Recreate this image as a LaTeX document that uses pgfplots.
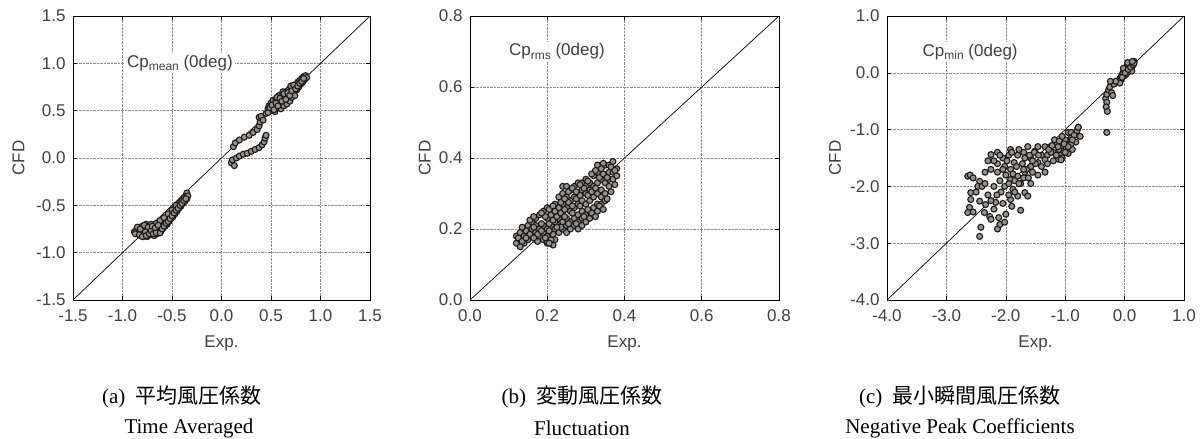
\documentclass[border=0pt]{standalone}
\usepackage{fontspec}
\setmainfont{Liberation Serif}
\newfontfamily\sans{Liberation Sans}
\newfontfamily\cjk{Noto Sans CJK JP}
\usepackage{pgfplots}
\pgfplotsset{compat=1.18}
\definecolor{labgray}{HTML}{404040}
\definecolor{ptdark}{HTML}{1E1A18}
\definecolor{ptgray}{HTML}{96928F}
\pgfplotsset{
  myax/.style={
    scale only axis, width=297pt, height=284pt,
    anchor=south west,
    grid=major, grid style={densely dotted, black!45, line width=0.6pt},
    tick align=inside, major tick length=4pt,
    tick style={black, line width=0.6pt},
    axis line style={black, line width=0.8pt},
    ticklabel style={font=\sans\fontsize{17}{17}\selectfont, text=labgray},
    xticklabel style={yshift=-6pt},
    yticklabel style={xshift=-4pt},
    /pgf/number format/assume math mode=true,
    /pgf/number format/fixed, /pgf/number format/fixed zerofill, /pgf/number format/precision=1,
    label style={font=\sans\fontsize{17}{17}\selectfont, text=labgray},
    xlabel={Exp.}, ylabel={CFD},
    xlabel style={at={(axis description cs:0.5,-0.153)}, anchor=center},
  },
  pts/.style={only marks, mark=*, mark size=3pt, mark options={draw=ptdark, fill=ptgray, line width=1.1pt}},
  diag/.style={black, line width=0.7pt, no marks},
}
\newcommand{\cpnote}[1]{{\sans\fontsize{17}{17}\selectfont Cp\raisebox{-0.35ex}{\fontsize{12}{12}\selectfont #1} (0deg)}}
\begin{document}
\begin{tikzpicture}
\useasboundingbox (0,0) rectangle (1203pt,-439pt);
% ---------------- (a) mean
\begin{axis}[myax, at={(73pt,-300pt)},
  xmin=-1.5, xmax=1.5, ymin=-1.5, ymax=1.5,
  xtick={-1.5,-1,-0.5,0,0.5,1,1.5}, ytick={-1.5,-1,-0.5,0,0.5,1,1.5},
  ylabel style={at={(axis description cs:-0.1835,0.5)}, anchor=center}]
\addplot[diag] coordinates {(-1.5,-1.5) (1.5,1.5)};
\addplot[pts] coordinates {
(-0.88,-0.78) (-0.86,-0.76) (-0.85,-0.80) (-0.84,-0.74) (-0.83,-0.78) (-0.82,-0.82) (-0.81,-0.76) (-0.80,-0.79) (-0.80,-0.72) (-0.79,-0.83)
(-0.78,-0.77) (-0.77,-0.74) (-0.77,-0.80) (-0.76,-0.70) (-0.75,-0.83) (-0.75,-0.76) (-0.74,-0.79) (-0.73,-0.72) (-0.72,-0.81) (-0.72,-0.75)
(-0.71,-0.70) (-0.70,-0.78) (-0.69,-0.74) (-0.68,-0.82) (-0.67,-0.77) (-0.66,-0.72) (-0.65,-0.80) (-0.64,-0.75) (-0.63,-0.78)
(-0.62,-0.73) (-0.61,-0.77) (-0.60,-0.70) (-0.59,-0.74) (-0.58,-0.68) (-0.57,-0.72) (-0.56,-0.66) (-0.55,-0.70) (-0.54,-0.63) (-0.53,-0.67)
(-0.52,-0.60) (-0.51,-0.64) (-0.50,-0.58) (-0.49,-0.62) (-0.48,-0.55) (-0.47,-0.59) (-0.46,-0.52) (-0.45,-0.56) (-0.44,-0.50) (-0.43,-0.53)
(-0.42,-0.47) (-0.41,-0.51) (-0.40,-0.45) (-0.39,-0.48) (-0.38,-0.42) (-0.37,-0.46) (-0.36,-0.40) (-0.35,-0.43) (-0.35,-0.37) (-0.34,-0.40)
(-0.66,-0.69) (-0.62,-0.66) (-0.58,-0.63) (-0.54,-0.59) (-0.50,-0.55) (-0.46,-0.50)
(-0.87,-0.80) (-0.85,-0.73) (-0.83,-0.81) (-0.82,-0.75) (-0.80,-0.83) (-0.78,-0.71) (-0.77,-0.78) (-0.76,-0.82) (-0.74,-0.73) (-0.73,-0.80)
(-0.71,-0.77) (-0.70,-0.72) (-0.69,-0.80) (-0.67,-0.74) (-0.66,-0.79) (-0.64,-0.71) (-0.62,-0.79) (-0.60,-0.75) (-0.58,-0.72) (-0.56,-0.69)
(-0.54,-0.67) (-0.52,-0.64) (-0.50,-0.61) (-0.48,-0.58) (-0.46,-0.55) (-0.44,-0.53) (-0.42,-0.50) (-0.40,-0.48) (-0.38,-0.45) (-0.36,-0.43)
(0.10,-0.05) (0.11,-0.02) (0.13,-0.08) (0.15,0.00) (0.18,0.02) (0.22,0.04) (0.26,0.05) (0.30,0.07) (0.34,0.09) (0.38,0.11)
(0.41,0.14) (0.43,0.17) (0.44,0.21) (0.45,0.24)
(0.12,0.12) (0.14,0.16) (0.18,0.19) (0.23,0.22) (0.28,0.24) (0.32,0.27) (0.36,0.30) (0.38,0.34) (0.39,0.38) (0.38,0.43) (0.40,0.44) (0.42,0.40)
(0.45,0.47) (0.47,0.52) (0.48,0.55) (0.50,0.50) (0.50,0.58) (0.52,0.54) (0.52,0.61) (0.54,0.49) (0.54,0.57) (0.55,0.62)
(0.56,0.53) (0.57,0.60) (0.58,0.56) (0.58,0.66) (0.60,0.52) (0.60,0.62) (0.61,0.58) (0.62,0.67) (0.63,0.55) (0.63,0.63)
(0.64,0.60) (0.65,0.70) (0.66,0.57) (0.66,0.65) (0.67,0.62) (0.68,0.72) (0.69,0.60) (0.70,0.67) (0.71,0.64) (0.72,0.74)
(0.73,0.70) (0.74,0.66) (0.75,0.77) (0.76,0.72) (0.77,0.80) (0.78,0.75) (0.79,0.82) (0.80,0.78) (0.81,0.84) (0.82,0.80)
(0.83,0.86) (0.84,0.83) (0.85,0.87) (0.86,0.85) (0.70,0.76) (0.62,0.70) (0.56,0.64)
(0.47,0.48) (0.49,0.53) (0.51,0.56) (0.53,0.51) (0.55,0.58) (0.57,0.55) (0.59,0.63) (0.61,0.60) (0.63,0.68) (0.65,0.62)
(0.67,0.69) (0.69,0.66) (0.71,0.71) (0.73,0.77) (0.75,0.73) (0.77,0.76) (0.79,0.79) (0.81,0.81) (0.83,0.84)
};
\node[fill=white, inner sep=2pt, text=labgray] at (axis cs:-0.42,1.0) {\cpnote{mean}};
\end{axis}
% ---------------- (b) rms
\begin{axis}[myax, at={(470pt,-300pt)}, width=309pt,
  xmin=0, xmax=0.8, ymin=0, ymax=0.8,
  xtick={0,0.2,0.4,0.6,0.8}, ytick={0,0.2,0.4,0.6,0.8},
  ylabel style={at={(axis description cs:-0.146,0.5)}, anchor=center}]
\addplot[diag] coordinates {(0,0) (0.8,0.8)};
\addplot[pts] coordinates {
(0.12,0.16) (0.13,0.17) (0.12,0.18) (0.13,0.19) (0.14,0.16) (0.14,0.18) (0.14,0.20) (0.15,0.17) (0.15,0.19) (0.15,0.21)
(0.16,0.18) (0.16,0.20) (0.16,0.22) (0.17,0.17) (0.17,0.19) (0.17,0.21) (0.17,0.23) (0.18,0.18) (0.18,0.20) (0.18,0.24)
(0.19,0.17) (0.19,0.19) (0.19,0.21) (0.19,0.25) (0.20,0.16) (0.20,0.18) (0.20,0.20) (0.20,0.23) (0.20,0.26) (0.21,0.16)
(0.21,0.19) (0.21,0.21) (0.21,0.24) (0.22,0.17) (0.22,0.20) (0.22,0.22) (0.22,0.25) (0.22,0.27) (0.23,0.19) (0.23,0.21)
(0.23,0.23) (0.23,0.26) (0.23,0.29) (0.24,0.20) (0.24,0.22) (0.24,0.24) (0.24,0.27) (0.24,0.30) (0.24,0.32) (0.25,0.19)
(0.25,0.21) (0.25,0.23) (0.25,0.26) (0.25,0.29) (0.25,0.32) (0.26,0.20) (0.26,0.22) (0.26,0.25) (0.26,0.28) (0.26,0.31)
(0.27,0.21) (0.27,0.23) (0.27,0.26) (0.27,0.29) (0.27,0.32) (0.28,0.20) (0.28,0.22) (0.28,0.24) (0.28,0.27) (0.28,0.30)
(0.28,0.33) (0.29,0.21) (0.29,0.23) (0.29,0.25) (0.29,0.28) (0.29,0.31) (0.29,0.33) (0.30,0.22) (0.30,0.24) (0.30,0.27)
(0.30,0.30) (0.30,0.32) (0.30,0.34) (0.31,0.23) (0.31,0.25) (0.31,0.28) (0.31,0.31) (0.31,0.33) (0.32,0.24) (0.32,0.26)
(0.32,0.29) (0.32,0.32) (0.32,0.35) (0.33,0.25) (0.33,0.27) (0.33,0.30) (0.33,0.33) (0.33,0.36) (0.33,0.38) (0.34,0.27)
(0.34,0.29) (0.34,0.31) (0.34,0.34) (0.34,0.37) (0.35,0.28) (0.35,0.30) (0.35,0.33) (0.35,0.35) (0.35,0.38) (0.36,0.32)
(0.36,0.34) (0.36,0.36) (0.36,0.38) (0.37,0.34) (0.37,0.36) (0.37,0.39) (0.38,0.35) (0.38,0.37) (0.20,0.165) (0.21,0.17)
(0.125,0.175) (0.135,0.165) (0.145,0.195) (0.155,0.185) (0.165,0.205) (0.175,0.185) (0.185,0.215) (0.195,0.235) (0.205,0.215) (0.215,0.225)
(0.225,0.235) (0.235,0.245) (0.245,0.255) (0.255,0.275) (0.265,0.265) (0.275,0.285) (0.285,0.295) (0.295,0.315) (0.305,0.295) (0.315,0.305)
(0.325,0.315) (0.335,0.345) (0.345,0.355) (0.355,0.345) (0.365,0.375) (0.375,0.365) (0.155,0.225) (0.165,0.235) (0.185,0.245) (0.205,0.255)
(0.215,0.265) (0.235,0.275) (0.245,0.285) (0.255,0.305) (0.265,0.315) (0.275,0.305) (0.285,0.325) (0.305,0.335) (0.315,0.355) (0.325,0.365)
(0.345,0.385) (0.175,0.165) (0.195,0.175) (0.215,0.185) (0.235,0.205) (0.255,0.215) (0.275,0.215) (0.295,0.235) (0.315,0.245) (0.335,0.265)
(0.355,0.285) (0.365,0.305) (0.375,0.325) (0.345,0.255) (0.325,0.235) (0.305,0.255) (0.285,0.265) (0.265,0.245) (0.245,0.235) (0.225,0.205)
(0.205,0.195) (0.185,0.195) (0.165,0.175) (0.145,0.175) (0.135,0.205) (0.13,0.15) (0.215,0.155) (0.205,0.16)
};
\node[fill=white, inner sep=2pt, text=labgray] at (axis cs:0.225,0.70) {\cpnote{rms}};
\end{axis}
% ---------------- (c) min
\begin{axis}[myax, at={(887pt,-300pt)},
  xmin=-4, xmax=1, ymin=-4, ymax=1,
  xtick={-4,-3,-2,-1,0,1}, ytick={-4,-3,-2,-1,0,1},
  ylabel style={at={(axis description cs:-0.175,0.5)}, anchor=center}]
\addplot[diag] coordinates {(-4,-4) (1,1)};
\addplot[pts] coordinates {
(-0.10,-0.15) (-0.08,-0.10) (-0.05,-0.05) (-0.06,-0.12) (-0.03,0.00) (0.00,-0.05) (0.00,0.03) (0.02,0.05) (0.03,-0.02) (0.05,0.08)
(0.06,0.02) (0.08,0.10) (0.09,0.05) (0.10,0.14) (0.11,0.08) (0.12,0.17) (0.13,0.12) (0.14,0.19) (0.15,0.15) (0.16,0.20)
(0.04,0.12) (-0.02,0.08) (0.07,0.15) (0.12,0.03)
(-0.04,-0.08) (0.01,0.00) (0.06,0.06) (0.10,0.10) (0.14,0.14) (0.16,0.17) (-0.08,-0.18) (0.05,0.18) (0.13,0.20)
(-0.32,-0.45) (-0.30,-0.52) (-0.31,-0.60) (-0.29,-0.68) (-0.30,-0.38) (-0.27,-0.30) (-0.25,-0.25) (-0.22,-0.35) (-0.20,-0.40) (-0.18,-0.20)
(-0.15,-0.15) (-0.24,-0.15) (-0.30,-1.05)
(-1.25,-1.30) (-1.20,-1.40) (-1.15,-1.25) (-1.10,-1.35) (-1.08,-1.45) (-1.05,-1.28) (-1.02,-1.38) (-1.00,-1.20) (-0.98,-1.32) (-0.95,-1.42)
(-0.92,-1.25) (-0.90,-1.15) (-0.88,-1.35) (-0.85,-1.10) (-0.82,-1.22) (-0.80,-1.02) (-0.78,-0.96) (-0.75,-1.12) (-1.12,-1.52) (-1.18,-1.18)
(-1.30,-1.45) (-0.95,-1.05) (-1.05,-1.50)
(-2.64,-1.82) (-2.60,-1.80) (-2.44,-1.91) (-2.47,-2.00) (-2.25,-1.44) (-2.14,-1.40) (-1.92,-1.35) (-1.63,-1.30) (-1.51,-1.38) (-2.59,-2.11)
(-2.59,-2.23) (-2.61,-2.37) (-2.64,-2.46) (-2.44,-2.26) (-2.34,-2.32) (-2.36,-2.46) (-2.27,-2.53) (-2.25,-2.58) (-2.42,-2.72) (-2.44,-2.88)
(-2.14,-2.75) (-2.10,-2.67) (-2.02,-2.63) (-2.00,-2.49) (-1.75,-2.42) (-2.17,-2.28) (-1.92,-2.23) (-1.80,-2.17) (-1.68,-2.11) (-1.63,-2.17)
(-2.02,-2.00) (-1.92,-1.88) (-1.80,-1.82) (-1.68,-1.75) (-1.58,-1.65) (-1.46,-1.58) (-1.34,-1.53) (-1.24,-1.40) (-1.12,-1.30) (-1.00,-1.18)
(-0.90,-1.05) (-0.78,-0.96) (-0.85,-1.10) (-0.90,-1.25) (-1.00,-1.40) (-1.07,-1.53) (-1.34,-1.75) (-1.46,-1.80) (-1.58,-1.95) (-2.02,-1.65)
(-2.14,-1.60) (-2.25,-1.70) (-2.14,-1.75) (-1.86,-1.58) (-1.80,-1.45) (-1.92,-1.70) (-1.46,-1.30) (-1.34,-1.30) (-1.58,-1.50) (-1.68,-1.50)
(-2.30,-1.55) (-2.05,-1.50) (-1.95,-1.45) (-1.85,-1.90) (-1.75,-1.95) (-1.70,-1.85) (-1.88,-2.05) (-2.08,-2.10) (-2.20,-2.00) (-2.30,-2.15)
(-1.55,-1.75) (-1.50,-1.60) (-1.40,-1.45) (-1.20,-1.55) (-1.70,-1.40) (-2.00,-1.80) (-2.10,-1.90) (-1.90,-2.35) (-2.20,-2.40) (-1.60,-1.45)
(-2.55,-1.85) (-2.50,-2.10) (-2.40,-2.00) (-2.35,-1.75) (-2.20,-1.55) (-2.10,-1.45) (-2.05,-1.70) (-1.98,-1.55) (-1.90,-1.40) (-1.82,-1.65)
(-1.78,-1.35) (-1.72,-1.60) (-1.65,-1.70) (-1.62,-1.85) (-1.55,-1.55) (-1.52,-1.40) (-1.45,-1.45) (-1.40,-1.65) (-1.30,-1.60) (-1.28,-1.35)
(-1.22,-1.28) (-1.15,-1.45) (-1.10,-1.20) (-1.05,-1.12) (-1.95,-2.15) (-2.05,-2.30) (-2.15,-2.15) (-2.25,-2.25) (-1.85,-2.10) (-1.78,-1.95)
(-1.95,-1.95) (-2.35,-1.95) (-1.70,-1.70) (-1.88,-1.78) (-2.12,-2.55) (-2.55,-2.45) (-0.95,-1.30) (-1.02,-1.25) (-0.88,-1.18)
};
\node[fill=white, inner sep=2pt, text=labgray] at (axis cs:-2.6,0.37) {\cpnote{min}};
\end{axis}
% ---------------- captions
\node[font=\fontsize{21}{21}\selectfont] at (182pt,-397pt) {(a)\ \ {\cjk 平均風圧係数}};
\node[font=\fontsize{21}{21}\selectfont] at (189pt,-428pt) {Time Averaged};
\node[font=\fontsize{21}{21}\selectfont] at (582pt,-397pt) {(b)\ \ {\cjk 変動風圧係数}};
\node[font=\fontsize{21}{21}\selectfont] at (582pt,-428pt) {Fluctuation};
\node[font=\fontsize{21}{21}\selectfont] at (960pt,-397pt) {(c)\ \ {\cjk 最小瞬間風圧係数}};
\node[font=\fontsize{21}{21}\selectfont] at (960pt,-428pt) {Negative Peak Coefficients};
\end{tikzpicture}
\end{document}
